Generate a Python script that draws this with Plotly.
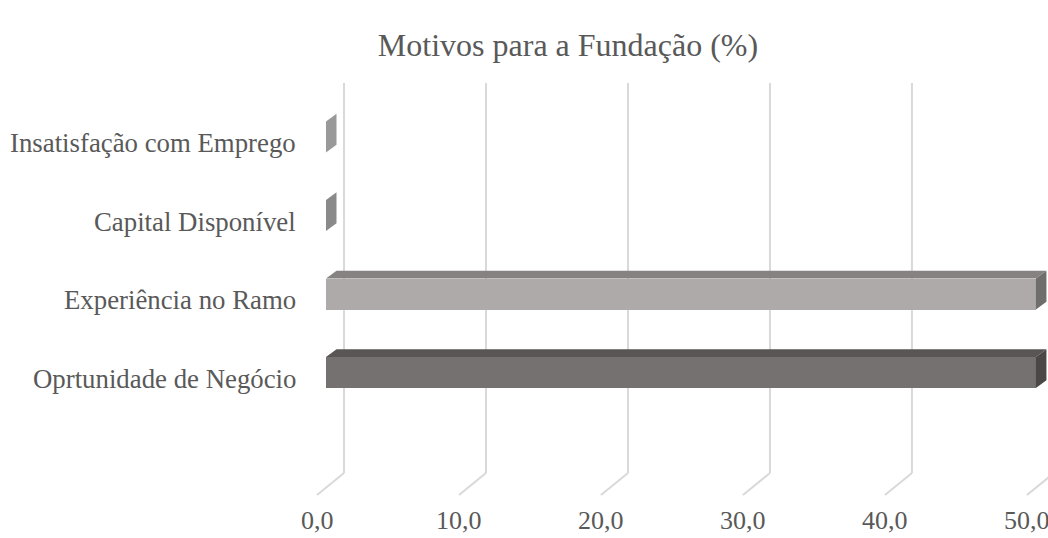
import plotly.graph_objects as go

# Motivos para a fundação da empresa (%)
categorias = ["Oprtunidade de Negócio", "Experiência no Ramo",
              "Capital Disponível", "Insatisfação com Emprego"]
valores = [50.0, 50.0, 0.0, 0.0]
ticks_x = [0, 10, 20, 30, 40, 50]
ticks_txt = ["0,0", "10,0", "20,0", "30,0", "40,0", "50,0"]

cor_frente = ["#767171", "#aeaaaa", "#a6a6a6", "#b4b4b4"]
cor_topo = ["#5a5555", "#868282", "#7c7c7c", "#8a8a8a"]
cor_lado = ["#4b4747", "#706d6d", "#8a8a8a", "#999999"]

FONTE = "Liberation Serif, Times New Roman, serif"
TXT = "#595959"

# oblique 3D projection (in axis units)
ESP = 0.395          # bar thickness (category units)
PX, PY = 0.74, 0.10  # bar depth offset
PAREDE_DX, CHAO_DX = 1.268, -0.634
PAREDE_Y0, PAREDE_Y1, CHAO_Y = -1.280, 3.688, -1.561
ROTULO_Y = -2.095    # baseline row of the value labels

fig = go.Figure()

# back wall gridlines + floor diagonals
shapes = []
for v in ticks_x:
    shapes.append(dict(type="line", xref="x", yref="y", layer="below",
                       x0=v + PAREDE_DX, x1=v + PAREDE_DX, y0=PAREDE_Y0, y1=PAREDE_Y1,
                       line=dict(color="#d9d9d9", width=2)))
    shapes.append(dict(type="line", xref="x", yref="y", layer="below",
                       x0=v + PAREDE_DX, x1=v + CHAO_DX, y0=PAREDE_Y0, y1=CHAO_Y,
                       line=dict(color="#d9d9d9", width=2)))

# front faces
fig.add_trace(go.Bar(
    y=list(range(len(categorias))), x=valores, orientation="h", base=0,
    width=ESP, marker=dict(color=cor_frente, line=dict(width=0)),
    hoverinfo="skip", showlegend=False))

# top and side faces
for k, v in enumerate(valores):
    y0, y1 = k - ESP / 2, k + ESP / 2
    if v > 0:
        fig.add_trace(go.Scatter(
            x=[0, PX, v + PX, v, 0], y=[y1, y1 + PY, y1 + PY, y1, y1],
            fill="toself", fillcolor=cor_topo[k], mode="lines",
            line=dict(width=0), hoverinfo="skip", showlegend=False))
    fig.add_trace(go.Scatter(
        x=[v, v + PX, v + PX, v, v], y=[y0, y0 + PY, y1 + PY, y1, y0],
        fill="toself", fillcolor=cor_lado[k], mode="lines",
        line=dict(width=0), hoverinfo="skip", showlegend=False))

anns = []
for k, nome in enumerate(categorias):
    anns.append(dict(x=-2.0, y=k - 0.08, xref="x", yref="y", text=nome,
                     showarrow=False, xanchor="right", yanchor="middle",
                     font=dict(family=FONTE, size=26.8, color=TXT)))
for v, t in zip(ticks_x, ticks_txt):
    anns.append(dict(x=v + CHAO_DX, y=ROTULO_Y, xref="x", yref="y", text=t,
                     showarrow=False, xanchor="center", yanchor="bottom",
                     font=dict(family=FONTE, size=26, color=TXT)))

fig.update_layout(
    width=1048, height=538,
    margin=dict(l=0, r=0, t=0, b=0),
    paper_bgcolor="white", plot_bgcolor="white",
    title=dict(text="Motivos para a Fundação (%)", x=0.542, xanchor="center",
               y=0.916, yanchor="middle",
               font=dict(family=FONTE, size=32, color=TXT)),
    xaxis=dict(range=[-22.96, 50.85], visible=False, fixedrange=True),
    yaxis=dict(range=[-2.108, 4.745], visible=False, fixedrange=True),
    shapes=shapes, annotations=anns, showlegend=False, bargap=0,
)

fig.write_html("out.html")
